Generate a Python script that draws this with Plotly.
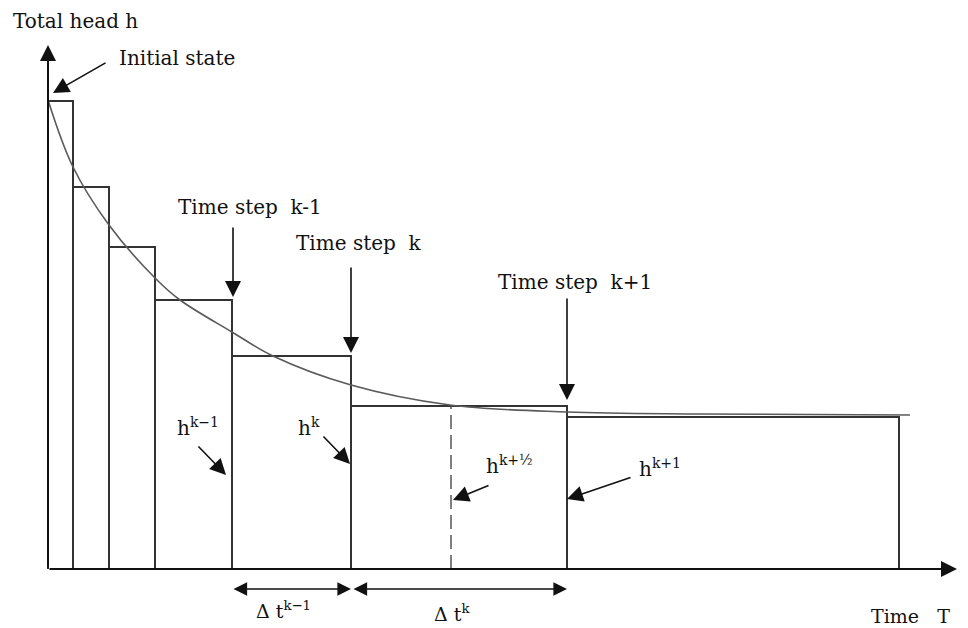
import plotly.graph_objects as go

# ---- data (time in arbitrary units, head in arbitrary units) ----
time_edges = [0, 25, 61, 107, 184, 303, 519, 851]
heads = [468, 382, 322, 269, 213, 163, 152]
curve_t = [0, 25, 61, 107, 132, 184, 225, 303, 402, 519, 652, 862]
curve_h = [469, 402, 344, 291, 269, 237, 213, 184, 164, 157, 155, 154]
half_step_t = 403
half_step_h = 163

FONT = "DejaVu Serif"
LINE = "#333333"

# step rectangles
bx, by = [], []
for i, h in enumerate(heads):
    x0, x1 = time_edges[i], time_edges[i + 1]
    bx += [x0, x0, x1, x1, None]
    by += [0, h, h, 0, None]

fig = go.Figure()
fig.add_trace(go.Scatter(x=bx, y=by, mode="lines",
                         line=dict(color=LINE, width=2), hoverinfo="skip"))
fig.add_trace(go.Scatter(x=curve_t, y=curve_h, mode="lines",
                         line=dict(color="#5a5a5a", width=1.6, shape="spline", smoothing=1),
                         hoverinfo="skip"))
fig.add_trace(go.Scatter(x=[half_step_t, half_step_t], y=[0, half_step_h], mode="lines",
                         line=dict(color="#555555", width=1.5, dash="14px,6px"),
                         hoverinfo="skip"))

ann = []

def arrow(tip, tail, head=2, size=2.0, width=1.6, side="end"):
    ann.append(dict(x=tip[0], y=tip[1], ax=tail[0], ay=tail[1], xref="x", yref="y",
                    axref="x", ayref="y", text="", showarrow=True, arrowhead=head,
                    arrowsize=size, arrowwidth=width, arrowcolor="#111111",
                    arrowside=side, startarrowhead=head, startarrowsize=size,
                    standoff=0, startstandoff=0))

def label(x, y, text, size=20, anchor="left"):
    ann.append(dict(x=x, y=y, xref="x", yref="y", text=text, showarrow=False,
                    xanchor=anchor, yanchor="middle",
                    font=dict(family=FONT, size=size, color="#111111")))

# axes
arrow((0, 524), (0, 0), size=1.6, width=2)
arrow((909, 0), (0, 0), size=1.6, width=2)

label(-37, 548, "Total head h", size=20)
label(69, 511, "Initial state")
arrow((5, 476), (59, 507))

label(128, 362, "Time step  k-1")
arrow((185, 272), (185, 343))
label(246, 326, "Time step  k")
arrow((303, 216), (303, 303))
label(448, 287, "Time step  k+1")
arrow((519, 169), (519, 272))

label(127, 142, "h<sup>k−1</sup>")
arrow((178, 94), (149, 124))
label(248, 142, "h<sup>k</sup>")
arrow((302, 105), (274, 134))
label(436, 104, "h<sup>k+½</sup>")
arrow((405, 69), (442, 84))
label(589, 101, "h<sup>k+1</sup>")
arrow((519, 70), (584, 92))

arrow((303, -20), (184, -20), side="end+start", size=1.7)
arrow((519, -20), (304, -20), side="end+start", size=1.7)
label(206, -41, "Δ t<sup>k−1</sup>", size=19)
label(384, -44, "Δ t<sup>k</sup>", size=19)
label(821, -47, "Time   T", size=19)

# page body has an 8px margin, so the figure is 960x620 and starts at (8, 8)
fig.update_layout(
    width=960, height=620,
    margin=dict(l=0, r=0, t=0, b=0),
    paper_bgcolor="white", plot_bgcolor="white",
    showlegend=False,
    xaxis=dict(range=[-40, 920], visible=False, fixedrange=True),
    yaxis=dict(range=[-59, 561], visible=False, fixedrange=True),
    annotations=ann,
)

fig.write_html("out.html")
